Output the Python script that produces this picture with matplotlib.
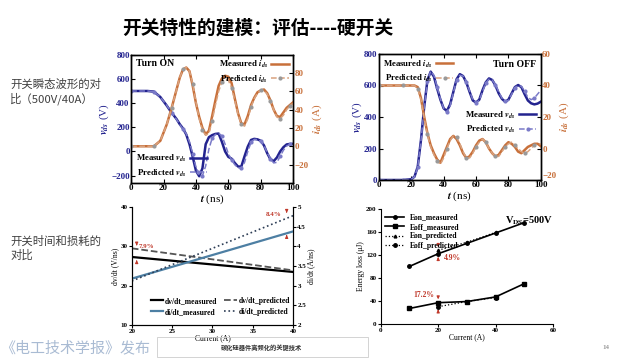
import matplotlib
matplotlib.use("Agg")
import matplotlib.pyplot as plt
from matplotlib.patches import Rectangle

plt.rcParams["font.family"] = ["Liberation Serif", "DejaVu Serif"]
plt.rcParams["font.weight"] = "bold"
plt.rcParams["mathtext.fontset"] = "stix"

CJK = ["Noto Sans CJK SC", "DejaVu Sans"]
BLUE = "#23238f"
BLUE_P = "#7a7ac8"
ORANGE = "#c8703a"
ORANGE_P = "#d9a27e"
RED = "#c0392b"

# ── DATA: turn-on waveforms ──
t_on = [0, 5, 10, 14, 18, 22, 25, 28, 30, 32, 34, 36, 38, 40, 42, 44, 46, 48, 50, 52, 54, 56,
        58, 60, 62, 64, 66, 68, 70, 72, 74, 76, 78, 80, 82, 84, 86, 88, 90, 92, 94, 96, 98, 100]
v_on_meas = [500, 500, 500, 495, 450, 378, 320, 268, 225, 190, 140, 60, -45, -160, -205, -140,
             60, 118, 135, 145, 148, 80, 0, -45, -60, -95, -125, -125, -40, 40, 95, 104, 100,
             88, 50, -15, -65, -80, -50, 0, 35, 58, 62, 63]
v_on_pred = [500, 500, 500, 495, 450, 380, 320, 265, 222, 185, 145, 80, -20, -130, -195, -200,
             -120, 20, 110, 140, 150, 130, 60, -20, -70, -110, -135, -140, -90, 0, 75, 100, 98,
             85, 50, -10, -60, -95, -90, -40, 10, 45, 58, 62]
i_on_meas = [0, 0, 0, 0, 6, 24, 42, 62, 75, 84, 86, 82, 66, 47, 32, 20, 13, 17, 33, 50, 66, 74,
             77, 76, 69, 52, 36, 25, 24, 33, 45, 53, 59, 61, 62, 58, 50, 40, 33, 32, 37, 42, 45, 48]
i_on_pred = [0, 0, 0, 0, 6, 24, 42, 62, 75, 84, 86, 82, 68, 48, 30, 18, 12, 14, 28, 45, 60, 70,
             73, 72, 64, 50, 35, 24, 22, 30, 43, 52, 58, 61, 61, 57, 49, 40, 32, 30, 34, 40, 44, 47]

# ── DATA: turn-off waveforms ──
t_off = [0, 5, 10, 15, 20, 22, 24, 26, 28, 30, 32, 34, 36, 38, 40, 42, 44, 46, 48, 50, 52, 54,
         56, 58, 60, 62, 64, 66, 68, 70, 72, 74, 76, 78, 80, 82, 84, 86, 88, 90, 92, 94, 96, 98, 100]
v_off_meas = [0, 0, 0, 0, 5, 21, 85, 254, 466, 635, 688, 656, 580, 510, 455, 438, 480, 560, 640,
              672, 660, 620, 560, 505, 492, 510, 570, 620, 645, 635, 600, 550, 515, 497, 510, 550,
              590, 603, 590, 545, 505, 487, 480, 485, 497]
v_off_pred = [0, 0, 0, 0, 5, 20, 80, 250, 460, 630, 690, 665, 590, 515, 455, 430, 470, 555, 635,
              665, 660, 625, 565, 510, 492, 505, 560, 615, 640, 635, 605, 560, 520, 500, 505, 545,
              585, 600, 595, 565, 525, 510, 520, 545, 570]
i_off_meas = [40, 40, 40, 40, 40, 40, 39, 32, 20, 9.6, 2, -3, -7, -9, -4, 1, 6, 8, 6, 2, -3, -6,
              -5, -2, 2, 5, 6, 4, 0, -3, -5, -4, -1, 2, 4, 3, 1, -2, -3, -1, 1, 2, 3, 3, 1.5]
i_off_pred = [40, 40, 40, 40, 40, 40, 38, 31, 19, 9, 1, -4, -8, -10, -6, 0, 5, 8, 7, 3, -2, -6,
              -6, -3, 1, 4, 6, 4, 0, -3, -5, -5, -2, 1, 3, 4, 2, 0, -2, -3, -2, 0, 2, 3, 3]

# ── DATA: switching speed vs current ──
cur_sw = [20, 40]
dvdt_meas = [27.3, 23.5]
dvdt_pred = [29.5, 23.9]
didt_meas = [3.18, 4.38]
didt_pred = [3.12, 4.78]

# ── DATA: energy loss ──
cur_e = [10, 20, 30, 40, 50]
eon_meas = [100, 122, 140, 158, 176]
eoff_meas = [27, 37, 39, 47, 70]
cur_e_pred = [20, 30, 40]
eon_pred = [128, 142, 159]
eoff_pred = [30, 39, 46]

fig = plt.figure(figsize=(6.4, 3.6), dpi=100)

fig.text(0.403, 0.922, "开关特性的建模：评估----硬开关", family=CJK, fontsize=13.5,
         fontweight="bold", ha="center", va="center")
fig.text(0.016, 0.745, "开关瞬态波形的对\n比（500V/40A）", family=CJK, fontsize=8.2,
         fontweight="normal", color="#404040", va="center", linespacing=1.3)
fig.text(0.016, 0.31, "开关时间和损耗的\n对比", family=CJK, fontsize=8.2,
         fontweight="normal", color="#404040", va="center", linespacing=1.3)
fig.text(0.0, 0.033, "《电工技术学报》发布", family=CJK, fontsize=10.8,
         fontweight="normal", color="#a9bbd3", va="center")
fig.patches.append(Rectangle((0.245, 0.008), 0.330, 0.056, transform=fig.transFigure,
                             fill=False, edgecolor="#cccccc", lw=0.6))
fig.text(0.409, 0.036, "碳化硅器件高频化的关键技术", family=CJK, fontsize=4.5,
         fontweight="bold", ha="center", va="center", color="#333333")
fig.text(0.942, 0.036, "14", fontsize=5, color="#999999", va="center")


def wave_axes(rect, t, v_meas, v_pred, i_meas, i_pred, vlim, vticks, ilim, iticks, label, lab_right):
    ax = fig.add_axes(rect)
    ax2 = ax.twinx()
    ax.plot(t, v_meas, color=BLUE, lw=1.8, label="Measured $v_{ds}$")
    ax.plot(t, v_pred, color=BLUE_P, lw=1.1, ls="--", marker="o", ms=2, markevery=3,
            label="Predicted $v_{ds}$")
    ax2.plot(t, i_meas, color=ORANGE, lw=1.8, label="Measured $i_{ds}$")
    ax2.plot(t, i_pred, color=ORANGE_P, lw=1.1, ls="--", marker="o", ms=2, mfc="#999999",
             mec="#999999", markevery=3, label="Predicted $i_{ds}$")
    ax.set_xlim(0, 100)
    ax.set_ylim(*vlim)
    ax2.set_ylim(*ilim)
    ax.set_xticks(range(0, 101, 20))
    ax.set_yticks(vticks)
    ax2.set_yticks(iticks)
    ax.tick_params(direction="in", labelsize=6.5, length=3, top=True, pad=1)
    ax.tick_params(axis="y", labelcolor=BLUE)
    ax2.tick_params(direction="in", labelsize=6.5, length=3, labelcolor=ORANGE, pad=1)
    ax.set_xlabel("$t$ (ns)", fontsize=8, labelpad=0)
    ax.set_ylabel("$v_{ds}$ (V)", fontsize=8, color=BLUE, labelpad=0)
    ax2.set_ylabel("$i_{ds}$ (A)", fontsize=8, color=ORANGE, labelpad=1)
    for a in (ax, ax2):
        for s in a.spines.values():
            s.set_linewidth(1.0)
    leg_kw = dict(frameon=False, fontsize=6.3, markerfirst=False, handlelength=2.0,
                  handletextpad=0.4, borderaxespad=0.1, labelspacing=0.35)
    if lab_right:
        ax.text(0.97, 0.95, label, transform=ax.transAxes, ha="right", va="top", fontsize=7)
        ax2.legend(loc="upper left", **leg_kw)
        ax.legend(loc="center right", bbox_to_anchor=(1.0, 0.46), **leg_kw)
    else:
        ax.text(0.03, 0.97, label, transform=ax.transAxes, ha="left", va="top", fontsize=7)
        ax2.legend(loc="upper right", **leg_kw)
        ax.legend(loc="lower left", **leg_kw)
    return ax, ax2


wave_axes([0.205, 0.492, 0.253, 0.356], t_on, v_on_meas, v_on_pred, i_on_meas, i_on_pred,
          (-260, 800), range(-200, 801, 200), (-40, 100), range(-20, 81, 20), "Turn ON", False)
ax_off, ax_off2 = wave_axes([0.592, 0.5, 0.253, 0.35], t_off, v_off_meas, v_off_pred,
                            i_off_meas, i_off_pred, (0, 800), range(0, 801, 200), (-20, 60),
                            range(-20, 61, 20), "Turn OFF", True)
ax_off2.get_yticklabels()[0].set_va("bottom")

# ── dv/dt and di/dt vs current ──
ax = fig.add_axes([0.206, 0.097, 0.252, 0.328])
ax2 = ax.twinx()
l1, = ax.plot(cur_sw, dvdt_meas, color="black", lw=1.6, label="dv/dt_measured")
l2, = ax.plot(cur_sw, dvdt_pred, color="#555555", lw=1.3, ls="--", label="dv/dt_predicted")
l3, = ax2.plot(cur_sw, didt_meas, color="#4d7fa3", lw=1.6, label="di/dt_measured")
l4, = ax2.plot(cur_sw, didt_pred, color="#2d3d55", lw=1.2, ls=":", label="di/dt_predicted")
ax.set_xlim(20, 40)
ax.set_ylim(10, 40)
ax2.set_ylim(2, 5)
ax.set_xticks(range(20, 41, 5))
ax.set_yticks(range(10, 41, 10))
ax2.set_yticks([2, 2.5, 3, 3.5, 4, 4.5, 5])
ax2.set_yticklabels(["2", "2.5", "3", "3.5", "4", "4.5", "5"])
for a in (ax, ax2):
    a.spines["top"].set_visible(False)
    a.tick_params(labelsize=5, length=2, pad=1)
ax.set_xlabel("Current (A)", fontsize=5.5, labelpad=0)
ax.set_ylabel("dv/dt (V/ns)", fontsize=5.5, labelpad=1)
ax2.set_ylabel("di/dt (A/ns)", fontsize=5.5, labelpad=1)
ax2.legend([l1, l3, l2, l4], [l.get_label() for l in (l1, l3, l2, l4)], ncol=2,
           loc="lower center", bbox_to_anchor=(0.55, 0.02), frameon=False, fontsize=5.5,
           handlelength=1.6, handletextpad=0.3, columnspacing=0.9, labelspacing=0.35)
arrow = dict(arrowstyle="-|>", color=RED, lw=0.8, mutation_scale=4)
ax.annotate("", xy=(20.6, 29.5), xytext=(20.6, 31.3), arrowprops=arrow)
ax.annotate("", xy=(20.6, 27.2), xytext=(20.6, 25.5), arrowprops=arrow)
ax.text(20.8, 30.0, "7.9%", color=RED, fontsize=5, va="center")
ax2.annotate("", xy=(39.2, 4.78), xytext=(39.2, 4.95), arrowprops=arrow)
ax2.annotate("", xy=(39.2, 4.36), xytext=(39.2, 4.18), arrowprops=arrow)
ax2.text(38.6, 4.8, "8.4%", color=RED, fontsize=5, ha="right", va="center")

# ── energy loss ──
ax = fig.add_axes([0.595, 0.1, 0.269, 0.32])
ax.plot(cur_e, eon_meas, color="black", lw=1.2, marker="o", ms=2.5, label="Eon_measured")
ax.plot(cur_e, eoff_meas, color="black", lw=1.2, marker="s", ms=2.5, label="Eoff_measured")
ax.plot(cur_e_pred, eon_pred, color="black", lw=0.9, ls=":", marker="^", ms=2,
        label="Eon_predicted")
ax.plot(cur_e_pred, eoff_pred, color="black", lw=0.9, ls=":", marker="o", ms=2.5,
        label="Eoff_predicted")
ax.set_xlim(0, 60)
ax.set_ylim(0, 200)
ax.set_xticks(range(0, 61, 20))
ax.set_yticks(range(0, 201, 40))
ax.spines["top"].set_visible(False)
ax.spines["right"].set_visible(False)
ax.tick_params(labelsize=5, length=2, pad=1)
ax.set_xlabel("Current (A)", fontsize=5.5, labelpad=0)
ax.set_ylabel("Energy loss (μJ)", fontsize=5.5, labelpad=1)
ax.legend(loc="upper left", frameon=False, fontsize=5.5, handlelength=2.4,
          labelspacing=0.2, borderaxespad=0.2)
ax.text(1.0, 0.95, "V$_{\\mathrm{DS}}$=500V", transform=ax.transAxes, ha="right", va="top",
        fontsize=7.5)
ax.annotate("", xy=(20, 129), xytext=(20, 142), arrowprops=arrow)
ax.annotate("", xy=(20, 121), xytext=(20, 108), arrowprops=arrow)
ax.text(22, 114, "4.9%", color=RED, fontsize=5.5, va="center")
ax.annotate("", xy=(20, 38), xytext=(20, 52), arrowprops=arrow)
ax.annotate("", xy=(20, 30), xytext=(20, 17), arrowprops=arrow)
ax.text(18.5, 50, "17.2%", color=RED, fontsize=5.5, ha="right", va="center")

fig.savefig("out.png", dpi=100, facecolor="white")
